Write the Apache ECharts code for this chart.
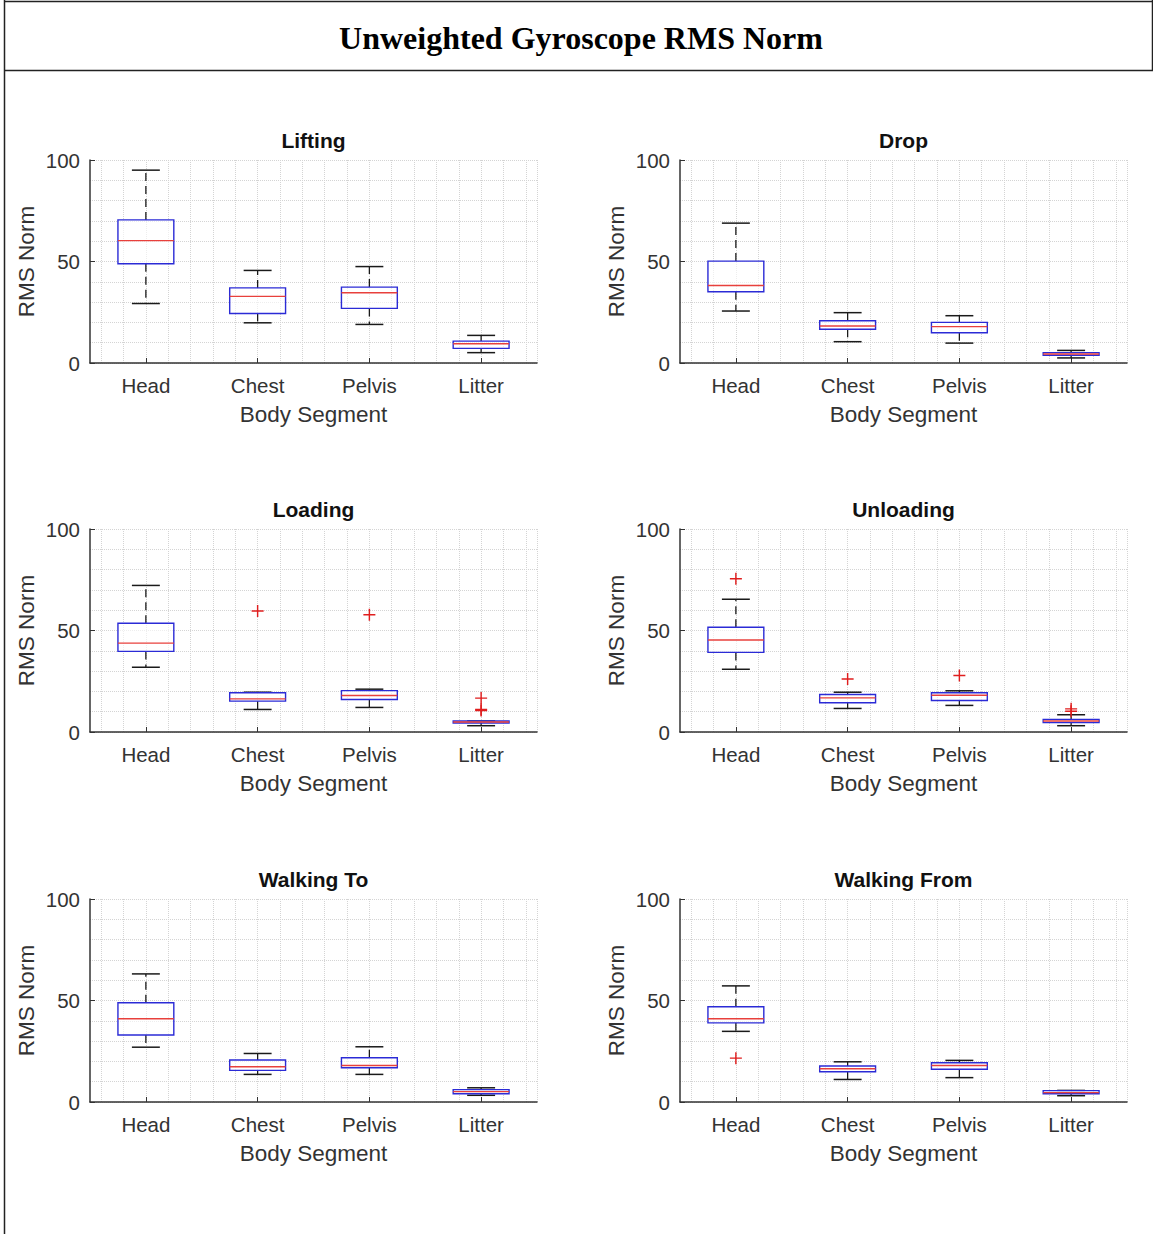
<!DOCTYPE html>
<html>
<head>
<meta charset="utf-8">
<script src="https://cdn.jsdelivr.net/npm/echarts@6/dist/echarts.min.js"></script>
<style>
html,body{margin:0;padding:0;background:#fff;}
#chart{width:1153px;height:1234px;}
</style>
</head>
<body>
<div id="chart"></div>
<script>
// ---- data ----
const mainTitle = 'Unweighted Gyroscope RMS Norm';
const categories = ['Head', 'Chest', 'Pelvis', 'Litter'];
const panelTitles = ['Lifting', 'Drop', 'Loading', 'Unloading', 'Walking To', 'Walking From'];
const yTickValues = [0, 50, 100];
const xAxisName = 'Body Segment';
const yAxisName = 'RMS Norm';

// each row: [min whisker, Q1, median, Q3, max whisker] per category
const liftingStats = [[29.3, 48.9, 60.3, 70.5, 95.0], [19.8, 24.4, 32.8, 37.0, 45.6], [19.0, 26.9, 34.6, 37.4, 47.5], [5.1, 7.2, 9.5, 10.8, 13.6]];
const dropStats = [[25.6, 35.1, 38.2, 50.2, 68.9], [10.5, 16.6, 18.2, 20.8, 24.8], [9.8, 14.9, 17.9, 20.0, 23.3], [2.5, 3.8, 4.4, 5.1, 6.2]];
const loadingStats = [[31.9, 39.7, 43.8, 53.6, 72.2], [11.1, 15.2, 16.3, 19.3, 19.6], [12.1, 16.0, 18.0, 20.4, 21.1], [3.1, 4.4, 4.9, 5.4, 5.4]];
const unloadingStats = [[30.9, 39.2, 45.3, 51.6, 65.4], [11.6, 14.4, 16.8, 18.5, 19.6], [13.1, 15.5, 18.1, 19.3, 20.3], [3.1, 4.6, 5.4, 6.2, 8.5]];
const walkingToStats = [[27.0, 33.0, 41.0, 48.9, 63.1], [13.6, 15.6, 17.4, 20.7, 23.9], [13.6, 16.9, 18.0, 21.8, 27.2], [3.3, 4.1, 5.1, 6.1, 7.0]];
const walkingFromStats = [[34.8, 39.0, 41.0, 46.9, 57.2], [11.1, 14.9, 16.4, 17.7, 19.8], [12.0, 16.1, 18.0, 19.3, 20.5], [3.1, 4.1, 4.6, 5.6, 5.7]];

// outliers per category
const liftingOutliers = [[], [], [], []];
const dropOutliers = [[], [], [], []];
const loadingOutliers = [[], [59.6], [57.8], [16.7, 11.1, 10.6]];
const unloadingOutliers = [[75.5], [26.1], [27.8], [11.4, 10.2]];
const walkingToOutliers = [[], [], [], []];
const walkingFromOutliers = [[21.6], [], [], []];

const allStats = [liftingStats, dropStats, loadingStats, unloadingStats, walkingToStats, walkingFromStats];
const allOutliers = [liftingOutliers, dropOutliers, loadingOutliers, unloadingOutliers, walkingToOutliers, walkingFromOutliers];

// ---- layout / style ----
const colLeft = [90, 680];
const rowTop = [160, 529, 899];
const gridW = 447, gridH = 203;
const FONT = '"Liberation Sans", Arial, sans-serif';
const TXT = '#333333';
const GRIDC = '#d4d4d4';
const BOXC = '#2b2bd6';
const MEDC = '#e8403c';
const OUTC = '#e01e1e';
const hiddenCats = Array.from({length: 40}, (_, i) => String(i));

const chart = echarts.init(document.getElementById('chart'), null, {renderer: 'svg'});

function renderBox(params, api) {
  const c = api.value(0);
  const mn = api.value(1), q1 = api.value(2), md = api.value(3), q3 = api.value(4), mx = api.value(5);
  const band = api.size([1, 0])[0];
  const hw = band * 0.25, cw = band * 0.125;
  const x = api.coord([c, md])[0];
  const y = v => api.coord([c, v])[1];
  const wStyle = {stroke: '#1a1a1a', lineWidth: 1.3, lineDash: [8, 5]};
  const cStyle = {stroke: '#1a1a1a', lineWidth: 1.5};
  return {
    type: 'group',
    children: [
      {type: 'line', shape: {x1: x, y1: y(q3), x2: x, y2: y(mx)}, style: wStyle},
      {type: 'line', shape: {x1: x, y1: y(q1), x2: x, y2: y(mn)}, style: wStyle},
      {type: 'line', shape: {x1: x - cw, y1: y(mx), x2: x + cw, y2: y(mx)}, style: cStyle},
      {type: 'line', shape: {x1: x - cw, y1: y(mn), x2: x + cw, y2: y(mn)}, style: cStyle},
      {type: 'rect', shape: {x: x - hw, y: y(q3), width: 2 * hw, height: y(q1) - y(q3)}, style: {fill: 'rgba(255,255,255,0.6)', stroke: BOXC, lineWidth: 1.4}},
      {type: 'line', shape: {x1: x - hw, y1: y(md), x2: x + hw, y2: y(md)}, style: {stroke: MEDC, lineWidth: 1.4}}
    ]
  };
}

const grids = [], xAxes = [], yAxes = [], series = [], graphics = [];

panelTitles.forEach((t, i) => {
  const left = colLeft[i % 2];
  const top = rowTop[Math.floor(i / 2)];
  grids.push({left: left, top: top, width: gridW, height: gridH, containLabel: false});
  // visible category axis
  xAxes.push({
    type: 'category', gridIndex: i, data: categories, position: 'bottom',
    name: xAxisName, nameLocation: 'middle', nameGap: 40,
    nameTextStyle: {fontFamily: FONT, fontSize: 22.5, color: TXT},
    axisLine: {show: true, lineStyle: {color: TXT, width: 1.5}},
    axisTick: {show: true, inside: true, alignWithLabel: true, length: 5, lineStyle: {color: TXT}},
    axisLabel: {fontFamily: FONT, fontSize: 20.5, color: TXT, margin: 12},
    splitLine: {show: false}
  });
  // hidden category axis for the dotted vertical grid
  xAxes.push({
    type: 'category', gridIndex: i, data: hiddenCats, position: 'top',
    axisLine: {show: false}, axisTick: {show: false}, axisLabel: {show: false},
    splitLine: {show: true, interval: (idx) => idx % 2 === 1, lineStyle: {color: GRIDC, type: 'dotted', width: 1}}
  });
  yAxes.push({
    type: 'value', gridIndex: i, min: yTickValues[0], max: yTickValues[yTickValues.length - 1], interval: 50,
    name: yAxisName, nameLocation: 'middle', nameGap: 52,
    nameTextStyle: {fontFamily: FONT, fontSize: 22.5, color: TXT},
    axisLine: {show: true, lineStyle: {color: TXT, width: 1.5}},
    axisTick: {show: true, inside: true, length: 5, lineStyle: {color: TXT}},
    axisLabel: {fontFamily: FONT, fontSize: 20.5, color: TXT, margin: 10},
    splitLine: {show: true, lineStyle: {color: GRIDC, type: 'dotted', width: 1}},
    minorTick: {show: false, splitNumber: 5},
    minorSplitLine: {show: true, lineStyle: {color: GRIDC, type: 'dotted', width: 1}}
  });
  const stats = allStats[i];
  series.push({
    type: 'custom', xAxisIndex: 2 * i, yAxisIndex: i,
    renderItem: renderBox,
    encode: {x: 0, y: [1, 2, 3, 4, 5]},
    data: stats.map((s, c) => [c].concat(s)),
    z: 5
  });
  const outPts = [];
  allOutliers[i].forEach((arr, c) => arr.forEach(v => outPts.push([c, v])));
  series.push({
    type: 'scatter', xAxisIndex: 2 * i, yAxisIndex: i,
    symbol: 'path://M0,4.4H10V5.6H0Z M4.4,0H5.6V10H4.4Z',
    symbolSize: 12, itemStyle: {color: OUTC, opacity: 1},
    data: outPts, z: 6
  });
  graphics.push({
    type: 'text', x: left + gridW / 2, y: top - 20,
    style: {text: t, align: 'center', verticalAlign: 'middle',
      font: 'bold 21px ' + FONT, fill: '#111'}
  });
});

// page frame and main title
graphics.push(
  {type: 'line', shape: {x1: 4.5, y1: 1.5, x2: 1153, y2: 1.5}, style: {stroke: '#222', lineWidth: 1.5}},
  {type: 'line', shape: {x1: 4.5, y1: 70.5, x2: 1153, y2: 70.5}, style: {stroke: '#222', lineWidth: 1.5}},
  {type: 'line', shape: {x1: 4.5, y1: 0, x2: 4.5, y2: 1234}, style: {stroke: '#222', lineWidth: 1.5}},
  {type: 'line', shape: {x1: 1152.5, y1: 0, x2: 1152.5, y2: 71}, style: {stroke: '#222', lineWidth: 1.5}},
  {type: 'text', x: 581, y: 38, style: {text: mainTitle, align: 'center', verticalAlign: 'middle',
    font: 'bold 32px "Liberation Serif", "Times New Roman", serif', fill: '#000'}}
);

chart.setOption({
  backgroundColor: '#fff',
  animation: false,
  grid: grids,
  xAxis: xAxes,
  yAxis: yAxes,
  series: series,
  graphic: graphics
});
</script>
</body>
</html>
